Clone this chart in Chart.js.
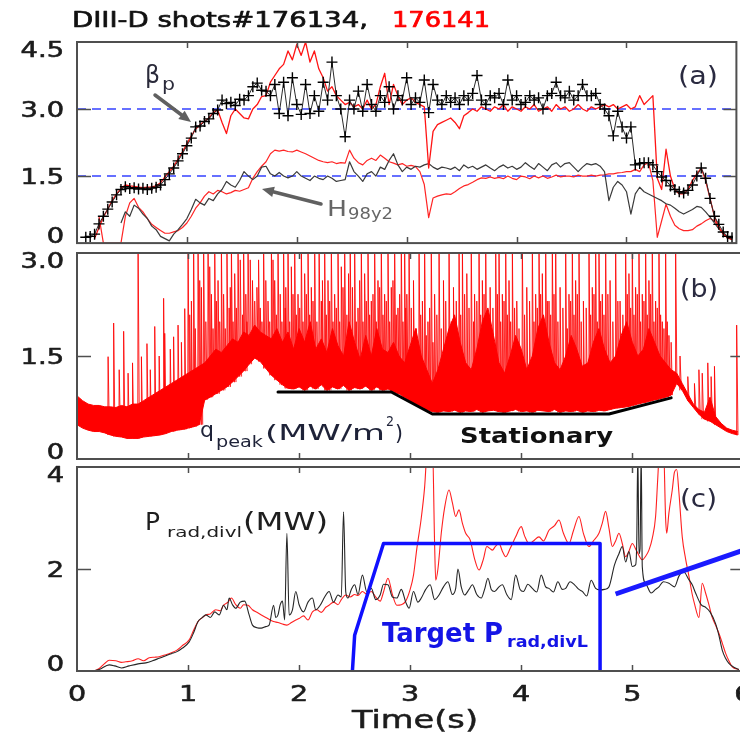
<!DOCTYPE html>
<html>
<head>
<meta charset="utf-8">
<script src="https://cdn.jsdelivr.net/npm/chart.js@4.4.1/dist/chart.umd.min.js"></script>
<style>
  html, body { margin: 0; padding: 0; background: #fff; width: 740px; height: 733px; overflow: hidden; }
  canvas { position: absolute; left: 0; }
  #panelA { top: 0; }
  #panelB { top: 250px; }
  #panelC { top: 463px; }
</style>
</head>
<body>
<canvas id="panelA" width="740" height="250" style="width:740px;height:250px"></canvas>
<canvas id="panelB" width="740" height="213" style="width:740px;height:213px"></canvas>
<canvas id="panelC" width="740" height="270" style="width:740px;height:270px"></canvas>
<script>
// ---------------- data ----------------
// time axis (s)
const X_TICKS = [0, 1, 2, 3, 4, 5, 6];
const X_MAX = 5.97;

// (a) poloidal beta, sampled every 0.04 s
const BETA_176134_T0 = 0.08;
const BETA_176134 = [
  0.13,0.15,0.2,0.43,0.6,0.76,0.92,1.08,1.2,1.26,
  1.22,1.24,1.21,1.23,1.2,1.23,1.25,1.3,1.42,1.55,
  1.68,1.84,2.0,2.18,2.35,2.6,2.62,2.72,2.78,2.9,
  2.98,3.2,3.12,3.15,3.08,3.22,3.2,3.3,3.5,3.58,
  3.42,3.4,3.3,3.55,2.9,3.6,2.85,3.7,3.1,2.88,
  3.55,2.9,3.3,2.95,3.6,3.2,4.05,3.3,3.0,2.38,
  3.2,3.0,3.4,2.95,3.55,3.1,2.95,3.3,3.15,3.5,
  3.0,3.3,3.2,3.7,3.1,3.25,3.15,3.65,2.92,3.55,
  3.2,3.1,3.3,3.15,3.25,3.1,3.3,3.2,3.35,3.75,
  3.2,3.1,3.3,3.25,3.35,3.1,3.65,3.2,3.3,3.1,
  3.15,3.3,3.2,3.25,3.0,3.3,3.35,3.6,3.3,3.25,
  3.4,3.2,3.3,3.55,3.3,3.3,3.35,3.1,3.0,2.85,
  2.4,2.95,2.6,2.35,2.6,1.75,1.78,1.8,1.8,1.75,
  1.6,1.48,1.4,1.28,1.2,1.15,1.12,1.18,1.3,1.5,
  1.68,1.45,1.0,0.6,0.42,0.25,0.15,0.12
];
const BETA_176141_T0 = 0.16;
const BETA_176141 = [
  0.1,0.35,0.58,0.76,0.95,1.1,1.22,1.3,1.28,1.27,
  1.25,1.24,1.25,1.26,1.28,1.35,1.48,1.6,1.72,1.88,
  2.04,2.22,2.4,2.55,2.65,2.72,2.8,2.92,2.98,2.7,
  2.45,2.85,3.0,2.9,2.8,2.78,3.0,3.1,3.28,3.3,
  3.6,3.75,3.9,4.0,4.3,4.1,4.45,4.2,4.5,4.05,
  4.3,3.9,3.7,3.4,3.5,3.3,3.2,3.1,3.15,3.05,
  3.1,3.0,3.2,3.0,3.1,3.5,3.8,3.1,3.55,3.3,
  3.1,3.2,3.25,3.15,3.1,3.05,1.68,2.5,2.65,2.7,
  2.75,2.8,2.7,2.56,2.85,2.92,3.0,2.95,3.05,3.0,
  2.95,3.05,3.0,3.1,2.95,3.05,3.0,2.95,3.05,3.0,
  3.1,2.95,3.0,3.05,2.95,3.1,3.0,3.05,2.95,3.0,
  3.1,3.0,2.95,3.05,3.0,3.05,3.1,3.05,3.1,3.0,
  3.05,3.1,3.0,3.05,3.3,3.1,3.2,3.3,1.45,1.2,
  2.1,1.5,1.2,1.1,1.1,1.2,1.4,1.55,1.68,1.4,
  1.0,0.6,0.35,0.2,0.12,0.08
];

// (a) confinement factor H98y2, sampled every 0.04 s
const H98_176134_T0 = 0.40;
const H98_176134 = [
  0.45,0.7,0.6,0.85,0.78,0.65,0.55,0.38,0.3,0.15,
  0.1,0.05,0.2,0.3,0.42,0.55,0.75,0.98,0.9,0.85,
  1.0,0.95,1.1,1.2,1.38,1.3,1.25,1.4,1.6,1.5,
  1.42,1.5,1.7,1.72,1.55,1.5,1.58,1.5,1.46,1.5,
  1.6,1.5,1.45,1.4,1.5,1.45,1.42,1.5,1.45,1.38,
  1.4,1.42,1.82,1.6,1.5,1.38,1.55,1.6,1.5,1.7,
  1.65,1.85,2.0,1.75,1.6,1.7,1.65,1.72,1.7,1.75,
  1.78,1.7,1.65,1.7,1.68,1.65,1.7,1.62,1.75,1.68,
  1.72,1.65,1.7,1.75,1.68,1.62,1.7,1.75,1.68,1.72,
  1.65,1.7,1.8,1.72,1.65,1.78,1.7,1.62,1.75,1.8,
  1.7,1.78,1.8,1.7,1.6,1.7,1.78,1.75,1.78,1.72,
  1.6,0.95,1.25,1.38,1.3,1.15,0.65,1.1,1.25,1.15,
  1.1,1.05,1.0,0.95,0.88,0.85,0.78,0.7,0.65,0.7,
  0.75,0.82,0.8,0.7,0.58,0.45,0.32,0.22,0.12,0.08
];
const H98_176141_T0 = 0.20;
const H98_176141 = [
  0.6,0.0,0.0,0.0,0.0,0.0,0.6,0.9,1.0,0.8,
  0.7,0.55,0.42,0.35,0.28,0.22,0.22,0.25,0.28,0.35,
  0.45,0.6,0.78,0.9,1.05,1.15,1.1,1.18,1.15,1.1,
  1.13,1.18,1.16,1.2,1.24,1.45,1.6,1.72,1.82,2.0,
  2.08,2.06,2.08,2.05,2.04,2.08,2.04,2.0,1.95,1.9,
  1.85,1.82,1.8,1.82,1.78,1.8,1.79,2.08,1.9,1.8,
  1.75,1.85,1.9,1.85,1.97,1.9,1.82,1.79,1.75,1.78,
  1.72,1.74,1.71,1.6,1.31,0.57,1.01,1.05,1.08,1.1,
  1.09,1.15,1.22,1.28,1.31,1.36,1.42,1.46,1.45,1.48,
  1.45,1.47,1.44,1.5,1.45,1.42,1.5,1.48,1.44,1.5,
  1.46,1.5,1.45,1.48,1.52,1.48,1.5,1.5,1.48,1.52,
  1.5,1.5,1.52,1.5,1.52,1.53,1.55,1.55,1.57,1.58,
  1.6,1.6,1.65,1.6,1.75,1.8,1.4,0.13,0.5,0.87,
  0.6,0.4,0.32,0.28,0.28,0.3,0.38,0.43,0.5,0.55,
  0.5,0.35,0.22,0.12,0.08
];
const A_STEP = 0.04;
const GUIDE_LEVELS = [3.0, 1.5];

// (b) peak divertor heat flux: lower edge and dense band top, every 0.05 s
const Q_STEP = 0.05;
const Q_LOW = [
  0.5,0.45,0.42,0.4,0.4,0.38,0.35,0.33,0.32,0.3,
  0.3,0.3,0.32,0.33,0.34,0.35,0.37,0.4,0.42,0.43,
  0.45,0.47,0.5,0.86,0.9,0.95,1.0,1.05,1.12,1.2,
  1.28,1.38,1.47,1.42,1.32,1.22,1.15,1.08,1.03,1.02,
  1.05,1.0,1.06,1.02,1.08,1.0,1.05,1.02,1.07,1.0,
  1.04,1.02,1.06,1.0,1.05,1.0,1.02,0.98,0.95,0.9,
  0.85,0.8,0.76,0.72,0.69,0.68,0.7,0.69,0.71,0.68,
  0.7,0.69,0.72,0.68,0.7,0.71,0.69,0.68,0.7,0.72,
  0.69,0.7,0.68,0.71,0.7,0.69,0.72,0.68,0.7,0.69,
  0.71,0.68,0.7,0.69,0.71,0.7,0.72,0.74,0.75,0.76,
  0.78,0.8,0.82,0.84,0.86,0.88,0.9,0.93,1.1,1.0,
  0.85,0.75,0.65,0.58,0.55,0.5,0.45,0.4,0.37,0.35
];
const Q_DENSE = [
  0.92,0.85,0.8,0.78,0.78,0.76,0.76,0.75,0.78,0.76,
  0.8,0.8,0.85,0.9,0.95,1.0,1.05,1.1,1.15,1.2,
  1.25,1.3,1.35,1.4,1.5,1.6,1.55,1.65,1.75,1.7,
  1.85,1.8,1.95,1.85,1.8,1.75,1.9,1.7,1.85,1.6,
  1.9,1.7,2.0,1.6,1.75,1.55,1.9,1.65,1.5,2.0,
  1.7,1.45,1.8,1.5,1.9,1.6,1.55,1.7,1.5,1.4,
  1.65,1.9,1.5,1.3,1.1,1.3,1.6,1.9,2.1,1.7,
  1.4,1.3,1.6,2.0,2.2,1.8,1.4,1.25,1.5,1.8,
  1.6,1.3,1.5,1.9,2.1,1.7,1.4,1.3,1.5,1.8,
  1.6,1.35,1.4,1.7,1.9,1.6,1.4,1.5,1.8,2.0,
  1.7,1.5,1.6,1.9,1.7,1.5,1.4,1.3,1.25,1.1,
  0.95,0.8,0.72,0.68,0.9,0.62,0.52,0.45,0.42,0.4
];
// (b) large ELM spikes: time (s) and peak value (MW/m^2)
const Q_SPIKE_T = [
  0.28,0.33,0.38,0.42,0.46,0.50,0.55,0.58,0.63,0.66,0.70,0.74,0.78,0.79,0.84,0.87,0.91,0.94,0.97,
  1.00,1.03,1.05,1.09,1.12,1.14,1.18,1.21,1.24,1.27,1.30,1.35,1.37,1.39,1.42,1.45,1.50,1.52,1.54,1.58,
  1.62,1.65,1.68,1.72,1.75,1.78,1.81,1.86,1.88,1.90,1.93,1.96,1.99,
  2.02,2.05,2.08,2.11,2.14,2.18,2.20,2.23,2.26,2.29,2.32,2.35,2.38,2.41,2.46,2.48,2.50,2.53,2.56,2.59,
  2.62,2.65,2.68,2.71,2.74,2.77,2.80,2.83,2.86,2.89,2.92,2.95,2.97,2.99,
  3.03,3.08,3.11,3.13,3.16,3.19,3.22,3.26,3.30,3.35,3.39,3.44,3.47,3.51,3.55,3.58,3.62,3.65,3.68,3.72,
  3.77,3.80,3.83,3.86,3.89,3.92,3.96,
  4.01,4.05,4.10,4.13,4.16,4.19,4.22,4.25,4.28,4.31,4.35,4.40,4.43,4.46,4.49,4.52,4.56,4.61,4.64,4.67,
  4.70,4.73,4.76,4.80,4.85,4.89,4.94,4.97,
  5.00,5.03,5.06,5.09,5.12,5.15,5.18,5.21,5.24,5.27,5.30,5.33,5.39,5.43,5.50,5.56,5.60,5.63,5.68,5.71,
  5.74,5.94
];
const Q_SPIKE_TOP = [
  1.49,1.98,1.3,1.86,1.25,1.4,3.2,1.49,1.68,1.3,1.93,1.5,2.34,1.83,1.6,1.78,1.95,1.7,2.19,
  3.2,2.3,3.2,3.2,2.5,3.2,3.2,2.4,3.2,2.6,3.2,3.2,2.2,3.2,2.7,3.2,3.2,2.4,3.2,2.6,
  2.5,2.2,3.2,2.3,3.2,2.6,3.2,3.2,2.5,3.2,2.8,3.2,2.4,
  3.2,2.7,3.2,2.5,3.2,3.2,2.3,3.2,2.6,3.2,2.4,3.2,2.8,3.2,3.2,2.5,3.2,2.2,3.2,2.7,
  3.2,2.3,3.2,2.6,3.2,2.4,3.2,2.5,3.2,2.2,3.2,3.2,2.4,3.2,
  2.6,3.2,2.3,3.2,2.0,3.2,2.4,3.2,2.6,3.2,2.5,3.2,3.2,2.7,3.2,2.4,3.2,2.6,3.2,2.5,
  3.2,3.2,2.4,3.2,2.6,3.2,2.3,
  3.2,2.5,3.2,2.4,3.2,2.7,3.2,2.3,3.2,3.2,2.5,3.2,2.4,3.2,2.6,3.2,2.3,3.2,2.5,3.2,
  3.2,2.4,3.2,2.6,3.2,2.3,3.2,2.7,
  3.2,2.5,3.2,2.4,3.2,2.6,3.2,2.3,3.2,2.0,3.2,1.8,3.2,1.5,1.2,1.1,1.3,1.25,1.4,1.2,
  1.35,1.95
];
// (b) smaller ELM bursts between the large ones
const Q_BURST_T = [
  1.015,1.065,1.105,1.16,1.195,1.225,1.255,1.285,1.32,1.335,1.38,1.405,1.435,1.47,1.49,1.53,1.56,1.60,
  1.635,1.665,1.70,1.735,1.765,1.795,1.83,1.845,1.875,1.915,1.945,1.975,
  2.005,2.035,2.065,2.095,2.125,2.16,2.21,2.245,2.275,2.305,2.335,2.365,2.395,2.43,2.445,2.515,2.545,
  2.575,2.605,2.635,2.665,2.695,2.725,2.755,2.785,2.815,2.845,2.875,2.905,2.935,2.96,
  3.01,3.055,3.095,3.145,3.175,3.205,3.24,3.28,3.32,3.37,3.415,3.455,3.49,3.53,3.57,3.60,3.635,3.665,
  3.70,3.745,3.785,3.815,3.845,3.875,3.905,3.94,3.98,
  4.03,4.075,4.115,4.145,4.175,4.205,4.235,4.265,4.295,4.33,4.375,4.415,4.445,4.475,4.505,4.54,4.585,
  4.625,4.655,4.685,4.715,4.745,4.78,4.825,4.87,4.915,4.955,4.985,
  5.015,5.045,5.075,5.105,5.135,5.165,5.195,5.225,5.255,5.285,5.315,5.35
];
const Q_BURST_TOP = [
  2.1,1.9,2.6,2.0,2.8,1.9,2.3,2.0,2.4,1.9,2.5,2.0,2.2,2.9,2.1,2.0,2.9,2.3,
  2.9,2.0,2.6,2.0,2.9,2.1,2.4,2.0,2.2,2.0,2.4,2.1,
  2.2,2.0,2.4,2.1,2.3,2.0,2.6,2.1,2.3,2.0,2.2,2.0,2.5,2.1,2.7,2.0,2.6,
  2.0,2.3,2.1,2.4,2.0,2.5,2.1,2.3,2.0,2.6,2.1,2.4,2.0,2.2,
  2.2,1.9,2.1,1.8,2.2,1.7,2.1,1.9,2.3,2.0,2.3,2.1,2.4,2.2,2.0,2.3,2.1,2.4,
  2.0,2.2,2.4,2.0,2.3,2.1,2.0,2.2,1.9,
  2.1,2.3,2.0,2.2,2.4,2.0,2.3,2.1,2.4,2.0,2.2,1.9,2.3,2.1,2.4,2.0,2.2,
  2.1,2.4,2.0,2.3,2.1,2.4,2.0,2.3,2.1,2.4,2.2,
  2.1,2.4,2.0,2.3,2.1,2.4,2.0,2.2,2.1,1.9,2.0,1.7
];
// (b) stationary-phase guide
const STAT_T = [1.81, 2.83, 3.20, 4.79, 5.35];
const STAT_V = [0.976, 0.976, 0.655, 0.655, 0.89];

// (c) divertor radiated power (MW)
const PRAD_176134_T = [
  0.00,0.10,0.20,0.29,0.34,0.40,0.47,0.55,0.62,0.68,0.74,0.80,0.85,0.90,0.95,1.01,1.05,1.09,1.13,1.16,
  1.20,1.24,1.28,1.32,1.35,1.37,1.40,1.43,1.47,1.51,1.55,1.58,1.62,1.66,1.70,1.73,1.77,1.79,1.81,1.83,
  1.85,1.87,1.89,1.91,1.94,1.97,2.00,2.04,2.08,2.12,2.15,2.19,2.23,2.27,2.31,2.35,2.38,2.40,2.42,2.44,
  2.47,2.50,2.53,2.57,2.61,2.65,2.69,2.73,2.76,2.80,2.84,2.88,2.92,2.96,2.99,3.03,3.07,3.10,3.14,3.18,
  3.22,3.26,3.30,3.34,3.38,3.41,3.43,3.46,3.49,3.53,3.56,3.60,3.64,3.67,3.70,3.73,3.76,3.80,3.83,3.87,
  3.91,3.95,3.99,4.02,4.06,4.10,4.14,4.18,4.22,4.25,4.29,4.33,4.37,4.40,4.44,4.48,4.52,4.55,4.59,4.63,
  4.67,4.71,4.75,4.79,4.84,4.88,4.91,4.94,4.97,5.00,5.03,5.04,5.05,5.06,5.07,5.08,5.09,5.12,5.17,5.21,
  5.24,5.28,5.33,5.38,5.42,5.46,5.51,5.54,5.57,5.62,5.66,5.70,5.75,5.78,5.81,5.84,5.87,5.91,5.96
];
const PRAD_176134 = [
  0.0,0.0,0.03,0.12,0.1,0.06,0.1,0.14,0.16,0.2,0.25,0.3,0.34,0.38,0.45,0.57,0.75,0.97,1.05,1.1,
  1.05,1.16,1.1,1.29,1.2,1.43,1.3,1.23,1.35,1.37,1.1,0.9,0.85,0.84,0.87,0.9,1.29,1.05,1.1,1.3,
  1.37,1.0,2.7,1.1,1.2,1.56,1.3,1.16,1.35,1.43,1.2,1.29,1.45,1.56,1.35,1.49,1.45,3.12,1.55,1.43,
  1.6,1.69,1.5,1.88,1.55,1.62,1.4,1.49,1.7,1.69,1.45,1.43,1.6,1.35,1.23,1.56,1.35,1.43,1.6,1.69,
  1.4,1.49,1.65,1.75,1.5,1.62,2.0,1.65,1.49,1.6,1.69,1.5,1.43,1.6,1.82,1.6,1.56,1.65,1.69,1.5,
  1.4,1.88,1.6,1.56,1.7,1.62,1.55,1.88,1.65,1.62,1.55,1.75,1.6,1.62,1.75,1.69,1.6,1.56,1.47,1.78,
  1.62,1.59,1.6,1.65,2.08,2.3,2.44,2.14,2.34,2.05,2.08,2.5,4.3,2.3,2.4,4.3,2.05,1.72,1.53,1.6,
  1.65,1.75,1.72,1.65,1.86,1.95,1.79,1.69,1.53,1.3,1.25,1.16,0.93,0.7,0.41,0.25,0.15,0.08,0.03
];
const PRAD_176141_T = [
  0.00,0.15,0.20,0.25,0.29,0.35,0.40,0.44,0.50,0.55,0.60,0.65,0.70,0.74,0.80,0.85,0.90,0.95,1.01,1.05,
  1.09,1.13,1.16,1.20,1.25,1.29,1.32,1.36,1.39,1.43,1.47,1.50,1.54,1.58,1.62,1.66,1.70,1.74,1.77,1.81,
  1.85,1.89,1.93,1.97,2.00,2.04,2.08,2.12,2.16,2.20,2.24,2.27,2.31,2.35,2.38,2.42,2.46,2.50,2.53,2.57,
  2.61,2.65,2.69,2.73,2.76,2.80,2.84,2.88,2.92,2.96,3.00,3.03,3.06,3.10,3.13,3.16,3.20,3.22,3.23,3.25,
  3.28,3.31,3.35,3.38,3.41,3.44,3.47,3.50,3.54,3.58,3.62,3.66,3.69,3.72,3.74,3.77,3.80,3.83,3.86,3.90,
  3.95,4.00,4.03,4.07,4.11,4.16,4.20,4.25,4.30,4.34,4.38,4.43,4.47,4.52,4.56,4.61,4.65,4.70,4.73,4.76,
  4.79,4.82,4.85,4.88,4.91,4.94,4.97,5.00,5.04,5.09,5.12,5.15,5.18,5.21,5.23,5.25,5.28,5.30,5.31,5.33,
  5.36,5.38,5.40,5.42,5.45,5.48,5.51,5.54,5.56,5.60,5.63,5.66,5.69,5.72,5.75,5.78,5.81,5.84,5.87,5.90,
  5.96
];
const PRAD_176141 = [
  0.0,0.0,0.05,0.15,0.21,0.2,0.17,0.18,0.2,0.24,0.2,0.26,0.27,0.28,0.32,0.36,0.41,0.5,0.61,0.8,
  0.97,1.05,1.1,1.12,1.2,1.18,1.29,1.35,1.43,1.3,1.23,1.3,1.29,1.2,1.15,1.1,1.05,1.0,0.97,0.95,
  0.92,0.9,0.95,1.0,1.03,1.08,1.0,1.16,1.2,1.15,1.25,1.29,1.35,1.3,1.4,1.49,1.45,1.5,1.48,1.56,
  1.5,1.56,1.45,1.37,1.55,1.82,1.5,1.29,1.3,1.37,1.6,1.88,2.4,3.0,3.6,4.5,4.5,2.5,1.78,2.0,
  2.7,3.2,3.55,3.3,3.03,3.16,2.9,2.7,2.57,2.2,1.98,2.2,2.44,2.4,2.37,2.45,2.5,2.35,2.24,2.4,
  2.63,2.83,2.65,2.5,2.55,2.63,2.55,2.76,2.85,2.96,2.7,2.5,2.75,3.03,2.7,2.44,2.55,2.7,2.9,3.13,
  2.8,2.44,2.55,2.7,2.5,2.24,2.35,2.5,2.35,2.18,2.25,2.37,2.6,3.03,3.8,4.5,4.5,3.0,2.7,3.1,
  3.55,3.9,3.95,3.5,2.63,2.2,1.86,1.5,1.32,1.05,1.72,1.53,1.3,1.05,0.9,0.74,0.55,0.35,0.2,0.08,
  0.03
];
// (c) requested radiated-power waveform and late ramp
const TARGET_T = [2.48, 2.50, 2.76, 4.71, 4.71];
const TARGET_V = [0, 0.7, 2.5, 2.5, 0];
const RAMP_T = [4.85, 6.0];
const RAMP_V = [1.51, 2.37];

// ---------------- helpers ----------------
const uniform = (t0, dt, vals) => vals.map((v, i) => ({ x: +(t0 + i * dt).toFixed(3), y: v }));
const paired = (ts, vs) => ts.map((t, i) => ({ x: t, y: vs[i] }));
const FRAME = '#4f4f4f';
const FONT = '"DejaVu Sans", "Noto Sans", sans-serif';

// each burst: sharp rise from the band's lower edge, slower decay back to it
function burstPoints(times, tops) {
  const pts = [];
  times.forEach((t, i) => {
    const base = Q_LOW[Math.min(Q_LOW.length - 1, Math.round(t / Q_STEP))];
    pts.push({ x: t - 0.003, y: base }, { x: t, y: tops[i] }, { x: t + 0.012, y: base }, { x: t + 0.013, y: null });
  });
  return pts;
}

function label(ctx, s, x, y, o) {
  const size = o.size || 21, weight = o.weight || 'normal';
  ctx.save();
  ctx.font = `${weight} ${size}px ${FONT}`;
  const w0 = ctx.measureText(s).width;
  const sx = o.width ? o.width / w0 : (o.sx || 1);
  const w = w0 * sx;
  let x0 = x;
  if (o.align === 'right') x0 = x - w;
  else if (o.align === 'center') x0 = x - w / 2;
  ctx.translate(x0, y);
  ctx.scale(sx, 1);
  ctx.fillStyle = o.color || '#1e1e1e';
  ctx.textAlign = 'left';
  ctx.textBaseline = 'alphabetic';
  ctx.fillText(s, 0, 0);
  if (o.heavy) {
    ctx.strokeStyle = ctx.fillStyle;
    ctx.lineWidth = o.heavy;
    ctx.lineJoin = 'round';
    ctx.strokeText(s, 0, 0);
  }
  ctx.restore();
}

function arrow(ctx, x1, y1, x2, y2, color, lw, head) {
  const a = Math.atan2(y2 - y1, x2 - x1);
  ctx.save();
  ctx.strokeStyle = color; ctx.fillStyle = color; ctx.lineWidth = lw; ctx.lineCap = 'round';
  ctx.beginPath();
  ctx.moveTo(x1, y1);
  ctx.lineTo(x2 - 0.8 * head * Math.cos(a), y2 - 0.8 * head * Math.sin(a));
  ctx.stroke();
  ctx.beginPath();
  ctx.moveTo(x2, y2);
  ctx.lineTo(x2 - head * Math.cos(a - 0.42), y2 - head * Math.sin(a - 0.42));
  ctx.lineTo(x2 - head * Math.cos(a + 0.42), y2 - head * Math.sin(a + 0.42));
  ctx.closePath();
  ctx.fill();
  ctx.restore();
}

// frame, inward ticks, tick labels and panel annotations
function decor(name, yTicks, yLabels, extra) {
  return {
    id: 'decor_' + name,
    afterDatasetsDraw(chart) {
      const { ctx, chartArea: a } = chart;
      const xs = chart.scales.x, ys = chart.scales.y;
      const right = xs.getPixelForValue(6);
      ctx.save();
      ctx.strokeStyle = FRAME;
      ctx.lineWidth = 1.5;
      ctx.beginPath();
      for (const t of X_TICKS) {
        if (t <= 0 || t >= 6) continue;
        const px = Math.round(xs.getPixelForValue(t)) + 0.5;
        ctx.moveTo(px, a.top); ctx.lineTo(px, a.top + 6);
        ctx.moveTo(px, a.bottom); ctx.lineTo(px, a.bottom - 6);
      }
      for (const v of yTicks) {
        if (v <= ys.min || v >= ys.max) continue;
        const py = Math.round(ys.getPixelForValue(v)) + 0.5;
        ctx.moveTo(a.left, py); ctx.lineTo(a.left + 14, py);
        ctx.moveTo(right, py); ctx.lineTo(right - 13, py);
      }
      ctx.stroke();
      ctx.lineWidth = 2;
      ctx.strokeRect(a.left, a.top, right - a.left, a.bottom - a.top);
      yTicks.forEach((v, i) => {
        let cy = ys.getPixelForValue(v);
        if (v >= ys.max) cy += 7.5;
        else if (v <= ys.min) cy -= 7.5;
        label(ctx, yLabels[i], 64, cy + 7.7, { size: 21, sx: 1.3, align: 'right', color: '#1c1c1c', heavy: 0.6 });
      });
      if (extra) extra(chart, ctx, xs, ys);
      ctx.restore();
    }
  };
}

function baseOptions(yMax, pad) {
  return {
    responsive: false,
    animation: false,
    devicePixelRatio: 1,
    layout: { padding: pad },
    plugins: { legend: { display: false }, tooltip: { enabled: false } },
    elements: { point: { radius: 0 }, line: { borderJoinStyle: 'round' } },
    scales: {
      x: { type: 'linear', min: 0, max: X_MAX, display: false },
      y: { type: 'linear', min: 0, max: yMax, display: false }
    }
  };
}

// ---------------- panel (a) ----------------
new Chart(document.getElementById('panelA'), {
  type: 'line',
  data: {
    datasets: [
      { data: uniform(BETA_176134_T0, A_STEP, BETA_176134), borderColor: '#2a2a2a', borderWidth: 1,
        pointStyle: 'cross', pointRadius: 5.5, pointBorderColor: '#000', pointBorderWidth: 1.4 },
      { data: uniform(BETA_176141_T0, A_STEP, BETA_176141), borderColor: '#ff1414', borderWidth: 1.3 },
      { data: uniform(H98_176134_T0, A_STEP, H98_176134), borderColor: '#3a3a3a', borderWidth: 1.2 },
      { data: uniform(H98_176141_T0, A_STEP, H98_176141), borderColor: '#ff2424', borderWidth: 1.2 },
      ...GUIDE_LEVELS.map(v => ({ data: [{ x: 0, y: v }, { x: 6, y: v }], borderColor: '#3442ff',
        borderWidth: 1.4, borderDash: [9, 6] }))
    ]
  },
  options: baseOptions(4.5, { left: 77, right: 0, top: 42, bottom: 4 }),
  plugins: [decor('a', [0, 1.5, 3.0, 4.5], ['0', '1.5', '3.0', '4.5'], (chart, ctx) => {
    label(ctx, 'DIII-D shots#176134,', 72, 27, { size: 22, width: 296, color: '#111', heavy: 0.7 });
    label(ctx, '176141', 392, 27, { size: 22, width: 98, color: '#ff0000', heavy: 0.7 });
    label(ctx, 'β', 145, 83, { size: 25, width: 15, color: '#2a2a3a' });
    label(ctx, 'p', 162, 89.5, { size: 17, width: 13, color: '#2a2a3a' });
    arrow(ctx, 155, 95, 191, 122, '#606060', 3.5, 13);
    label(ctx, 'H', 327, 216, { size: 22, width: 20, color: '#666' });
    label(ctx, '98y2', 348, 219, { size: 15, width: 45, color: '#666' });
    arrow(ctx, 321, 204, 262, 189, '#606060', 3.5, 13);
    label(ctx, '(a)', 678, 84, { size: 25, width: 40, color: '#2a2a40' });
  })]
});

// ---------------- panel (b) ----------------
new Chart(document.getElementById('panelB'), {
  type: 'line',
  data: {
    datasets: [
      { data: paired(STAT_T, STAT_V), borderColor: '#000', borderWidth: 3, borderCapStyle: 'round' },
      { data: burstPoints(Q_SPIKE_T, Q_SPIKE_TOP), borderColor: 'rgba(255,0,0,0.85)', borderWidth: 1, spanGaps: false },
      { data: burstPoints(Q_BURST_T, Q_BURST_TOP), borderColor: 'rgba(255,0,0,0.8)', borderWidth: 1, spanGaps: false },
      { data: uniform(0, Q_STEP, Q_DENSE), borderColor: '#ff0000', borderWidth: 1,
        fill: '+1', backgroundColor: '#ff0000' },
      { data: uniform(0, Q_STEP, Q_LOW), borderColor: '#ff0000', borderWidth: 1 }
    ]
  },
  options: baseOptions(3.0, { left: 77, right: 0, top: 3, bottom: 4 }),
  plugins: [decor('b', [0, 1.5, 3.0], ['0', '1.5', '3.0'], (chart, ctx) => {
    label(ctx, 'q', 200, 187, { size: 22, width: 14, color: '#1e2238' });
    label(ctx, 'peak', 216, 197, { size: 15, width: 47, color: '#1e2238' });
    label(ctx, '(MW/m', 265, 190, { size: 21, width: 120, color: '#1e2238' });
    label(ctx, '2', 386, 176, { size: 14, width: 8, color: '#1e2238' });
    label(ctx, ')', 395, 190, { size: 21, width: 8, color: '#1e2238' });
    label(ctx, 'Stationary', 460, 193, { size: 22, weight: 'bold', width: 153, color: '#111' });
    label(ctx, '(b)', 680, 47, { size: 25, width: 38, color: '#2a2a40' });
  })]
});

// ---------------- panel (c) ----------------
new Chart(document.getElementById('panelC'), {
  type: 'line',
  data: {
    datasets: [
      { data: paired(TARGET_T, TARGET_V), borderColor: '#1010ff', borderWidth: 3.5 },
      { data: paired(RAMP_T, RAMP_V), borderColor: '#1a1aff', borderWidth: 5 },
      { data: paired(PRAD_176134_T, PRAD_176134), borderColor: '#262626', borderWidth: 1.1,
        cubicInterpolationMode: 'monotone' },
      { data: paired(PRAD_176141_T, PRAD_176141), borderColor: '#ff2020', borderWidth: 1.1,
        cubicInterpolationMode: 'monotone' },
      { data: [{ x: 0, y: 0 }, { x: 6, y: 0 }], borderColor: '#4a4aff', borderWidth: 2 }
    ]
  },
  options: baseOptions(4, { left: 77, right: 0, top: 4, bottom: 62 }),
  plugins: [decor('c', [0, 2, 4], ['0', '2', '4'], (chart, ctx, xs) => {
    label(ctx, 'P', 145, 67, { size: 24, width: 15, color: '#1e1e1e' });
    label(ctx, 'rad,divl', 167, 74, { size: 14, width: 75, color: '#1e1e1e' });
    label(ctx, '(MW)', 243, 67, { size: 24, width: 85, color: '#1e1e1e' });
    label(ctx, '(c)', 680, 44, { size: 25, width: 37, color: '#2a2a40' });
    label(ctx, 'Target P', 382, 179, { size: 26, weight: 'bold', width: 121, color: '#1414e6' });
    label(ctx, 'rad,divL', 507, 184, { size: 16, weight: 'bold', width: 81, color: '#1414e6' });
    for (const t of X_TICKS) {
      label(ctx, String(t), xs.getPixelForValue(t), 238, { size: 22, sx: 1.3, align: 'center', color: '#1c1c1c', heavy: 0.6 });
    }
    label(ctx, 'Time(s)', 352, 265, { size: 25, width: 126, color: '#1c1c1c', heavy: 0.5 });
  })]
});
</script>
</body>
</html>
